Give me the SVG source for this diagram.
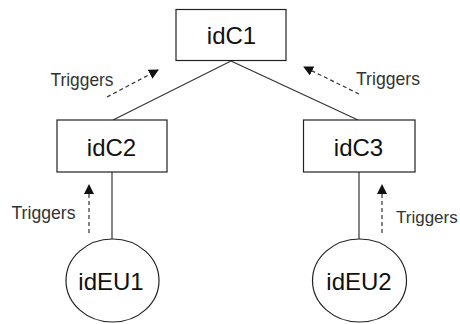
<svg xmlns="http://www.w3.org/2000/svg" width="460" height="324" viewBox="0 0 460 324">
  <style>
    .box { fill: #ffffff; stroke: #222222; stroke-width: 1.2; }
    .label { font-family: "Liberation Sans", Arial, sans-serif; font-size: 24px; fill: #111111; text-anchor: middle; }
    .edge { stroke: #333333; stroke-width: 1.2; fill: none; }
    .trig { stroke: #333333; stroke-width: 1.2; stroke-dasharray: 4 3; fill: none; }
    .tlabel { font-family: "Liberation Sans", Arial, sans-serif; font-size: 19px; fill: #333333; }
  </style>
  <defs>
    <marker id="arrow" viewBox="0 0 10 10" refX="9" refY="5" markerWidth="10" markerHeight="10" markerUnits="userSpaceOnUse" orient="auto">
      <path d="M0,0 L10,5 L0,10 Z" fill="#111111"/>
    </marker>
  </defs>
  <rect width="460" height="324" fill="#ffffff"/>

  <g id="connectors">
    <line class="edge" x1="231" y1="61" x2="113" y2="120"/>
    <line class="edge" x1="231" y1="61" x2="358" y2="120"/>
    <line class="edge" x1="112" y1="172" x2="112" y2="239"/>
    <line class="edge" x1="359" y1="172" x2="359" y2="239"/>
    <line class="trig" x1="107" y1="97" x2="158" y2="70" marker-end="url(#arrow)"/>
    <line class="trig" x1="359" y1="94" x2="304" y2="67" marker-end="url(#arrow)"/>
    <line class="trig" x1="89" y1="233" x2="89" y2="185" marker-end="url(#arrow)"/>
    <line class="trig" x1="382" y1="233" x2="382" y2="185" marker-end="url(#arrow)"/>
    <text class="tlabel" x="50.5" y="86" textLength="63" lengthAdjust="spacingAndGlyphs">Triggers</text>
    <text class="tlabel" x="356" y="85" textLength="64" lengthAdjust="spacingAndGlyphs">Triggers</text>
    <text class="tlabel" x="11.5" y="219" textLength="64" lengthAdjust="spacingAndGlyphs">Triggers</text>
    <text class="tlabel" x="396" y="223" style="font-size:17px">Triggers</text>
  </g>

  <g id="idC1">
    <rect class="box" x="176" y="9.5" width="110" height="51"/>
    <text class="label" x="231.5" y="44">idC1</text>
  </g>
  <g id="idC2">
    <rect class="box" x="57" y="120" width="110" height="52"/>
    <text class="label" x="111.5" y="156">idC2</text>
  </g>
  <g id="idC3">
    <rect class="box" x="303.5" y="120" width="111.5" height="52"/>
    <text class="label" x="358.5" y="156">idC3</text>
  </g>
  <g id="idEU1">
    <ellipse class="box" cx="112.5" cy="280.5" rx="46.5" ry="41.5"/>
    <text class="label" x="111" y="289.5">idEU1</text>
  </g>
  <g id="idEU2">
    <ellipse class="box" cx="359.5" cy="280.5" rx="47" ry="41.5"/>
    <text class="label" x="359" y="290">idEU2</text>
  </g>
</svg>
